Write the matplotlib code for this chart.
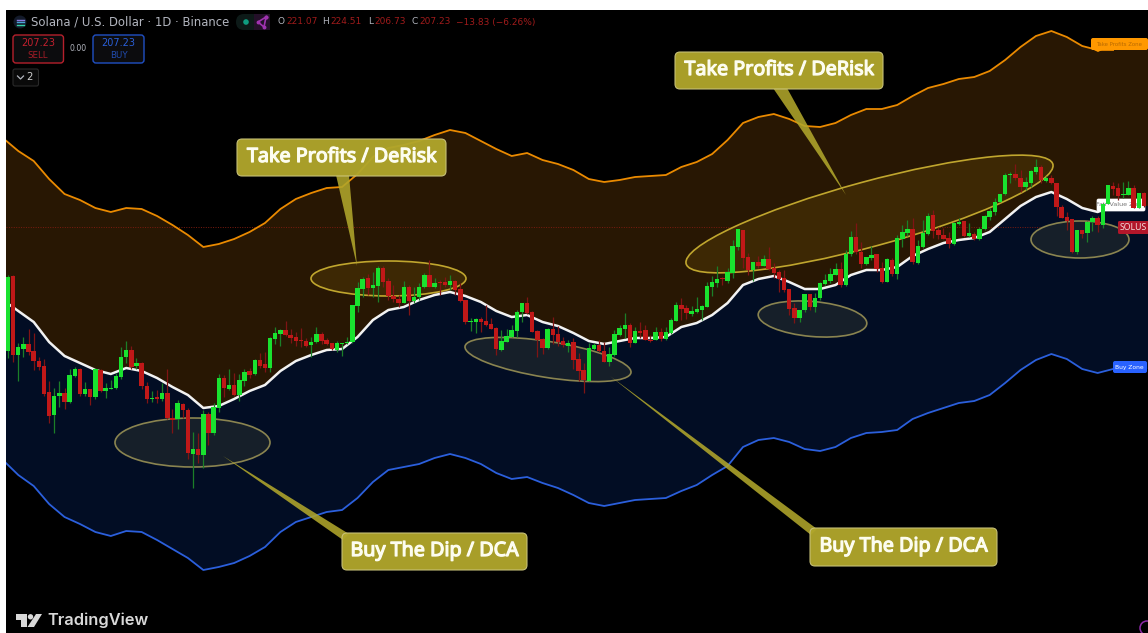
import numpy as np
import matplotlib
matplotlib.use("Agg")
import matplotlib.pyplot as plt
import matplotlib.patheffects as pe
from matplotlib.patches import Ellipse, FancyBboxPatch, Polygon, Circle, Rectangle

# Daily candles, rows of ten bars
opens = [145,182.5,143,146,148.5,145,140,137.5,124.5,113,
    122.5,124,119.5,132.5,136,123.5,126,122,135.5,125,
    126,126.5,132,142,145.5,137.5,139,127.5,121,122,
    121,124,111.5,111,118.5,115.5,93.5,96,93,113.5,
    104,116.5,131.5,126,128,123,130,135,133.5,140.5,
    138.5,136.5,151,153.5,155.5,153,152,150.5,150,148,
    149.5,153.5,150.5,149,145.5,148.5,149,149.5,167.5,176,
    181.5,176.5,177.5,186.5,180,172.5,171,169,177,170,
    172,177,183,177,179.5,179.5,178,180,176,170.5,
    159.5,159.5,161,160,158.5,156.5,145.5,149.5,152,155,
    164.5,169,164.5,155,151,146.5,156,153.5,150,147.5,
    149.5,141,135.5,130,146,148,145,139.5,143,153,
    156,158,149,155,155.5,150.5,150.5,154.5,151,154,
    160,168,166.5,163.5,164.5,165.5,167,177,179,181.5,
    180,184,197,205.5,192,185.5,189.5,187.5,191,186.5,
    184.5,181.5,176,166.5,161.5,165.5,173.5,167,171.5,178.5,
    180,183,186,178,193.5,202,194.5,188.5,191.5,193.5,
    186.5,179.5,190.5,183.5,201,204,206,189,197,203.5,
    213,205.5,203,201.5,198.5,208.5,210,202.5,203.5,201,
    206,212,214.5,219.5,223.5,233,233.5,231.5,227,229,
    234.5,237,230,231.5,229,217,212,211,194.5,205.5,
    204,209.5,211.5,208,218.5,227.5,226.5,223,223,226.5,
    216.5,224]
highs = [183,183,149,152,156,154,142,141,130,126.5,
    130,126.5,136,137,136.5,129.5,126,136.5,136,129,
    130.5,134,147,150,147.5,141.5,139.5,129.5,125,125.5,
    129,136,116,120.5,119,116.5,104.5,104,115.5,114.5,
    119,133.5,133,136,134,133.5,136,136.5,141,144,
    144.5,152,157,156,160,156,154.5,156.5,151.5,152,
    157,154.5,151.5,149,150,149,152,168,179.5,182,
    183.5,184.5,187.5,187.5,181.5,178,173,180,178,177,
    179,184,190.5,181.5,180.5,182,183,180.5,179,170.5,
    161.5,161.5,162,168,161.5,157,155.5,156,158,165.5,
    169,172,165,155.5,151.5,156.5,162,157.5,152,150.5,
    151.5,144,139,149,149,150.5,149.5,147,155.5,158,
    164,159,157,159.5,158,153,157,156.5,157,161.5,
    169.5,171.5,168,167.5,172,168,179.5,182.5,187.5,182,
    186.5,200.5,206,205.5,194,189.5,192.5,193,197,189,
    185.5,185.5,176,169,165.5,173.5,173.5,174,179.5,183.5,
    186.5,189,189.5,195.5,205,209,199.5,192,197.5,193.5,
    189.5,191.5,191.5,203,208,210.5,211.5,200.5,210.5,214,
    215.5,207,206.5,204.5,209.5,211.5,210,209,204.5,207,
    213,216.5,221.5,223.5,234,234.5,238.5,235.5,232,235.5,
    241,238,232.5,233,229,218,214.5,211,205.5,205.5,
    210,212.5,212.5,219,228,229.5,229,229.5,230,228,
    224,224.5]
lows = [141.5,139.5,130,142,143,135.5,135.5,122.5,109,104,
    117,116,119,132,122.5,122.5,118,121,124.5,121.5,
    126,126,131,139,136,136,126,119,119.5,119,
    120,111,104,106,111.5,91,76.5,89,86.5,98,
    103,114.5,122,125.5,122.5,120,127.5,131.5,133,136.5,
    134.5,134.5,148.5,147.5,152.5,149,147.5,147,147,142,
    149,148.5,148,145.5,144.5,142.5,148.5,149,164.5,172,
    173,172,169.5,177,170.5,169.5,167,169,163,169,
    170.5,176.5,177,176.5,173,177,175.5,173,169.5,158.5,
    155,154,154.5,157.5,156,143,145,149.5,152,152,
    159.5,163.5,154.5,142,143.5,146,148.5,147.5,147,144.5,
    136,130,124,130,145.5,144.5,139.5,137.5,142.5,152.5,
    151.5,147,149,151.5,150.5,149.5,150.5,150,150.5,153.5,
    160,160.5,161,162.5,164,160.5,167,172.5,177,178,
    179,181.5,195.5,186.5,183,180,186.5,187.5,185.5,181.5,
    174.5,174.5,163,159,159.5,164.5,165.5,164.5,170.5,178,
    179,183,177,177.5,192.5,193.5,186.5,188,190.5,184.5,
    179,179.5,182.5,181,197,202.5,188.5,188.5,196.5,203,
    201.5,201,201,196.5,198,208,202,202,200.5,200.5,
    205.5,210.5,213,219.5,223,229,230.5,224.5,225.5,227,
    233.5,229,229.5,228.5,212.5,211.5,205.5,194,193.5,201.5,
    199.5,205,204.5,206.5,218.5,223,220.5,221.5,223,216.5,
    216.5,217]
closes = [182,143,147,148.5,144.5,140,137,123.5,112.5,122.5,
    124,119.5,133,136,123.5,126,122,136,125,126.5,
    126.5,132.5,142,145.5,137,139,127.5,121,121.5,121,
    124,111.5,110.5,119,115.5,94,96,93,113.5,104,
    117,131.5,126.5,128,123,130.5,134.5,133,140.5,137.5,
    136.5,151.5,154,155.5,153,151.5,150,150,147.5,149.5,
    153.5,150,148.5,146,149,149,149.5,168,176.5,181,
    176.5,178,186.5,179.5,172.5,171,169,177,170,172,
    177,183,177,179,179,178,180,175.5,170,159.5,
    160,161,159.5,158,156,146,150,152.5,155.5,164.5,
    169,164,154.5,150.5,146.5,156,153,149.5,148,149,
    140.5,135,130.5,146.5,148,145,139.5,143.5,153.5,156.5,
    158,149,155,154,150.5,150,154.5,151,154.5,160.5,
    168,166,164,165,166,167.5,177.5,179.5,181,181,
    184.5,197.5,206,191.5,185.5,189.5,187.5,191,186,184,
    181,175.5,166,161.5,165.5,173.5,167,171.5,179,180.5,
    183.5,186,178,193.5,202,194.5,188.5,192,193,186,
    179.5,191,183.5,201.5,204.5,206,189.5,197.5,204,212.5,
    205,203,201,198.5,209,209.5,202.5,204,201,206,
    212.5,215,219.5,223.5,233,233.5,231.5,227,229.5,235,
    237,230.5,231.5,229,217,211.5,210,194.5,205.5,203.5,
    209.5,211.5,208,218.5,228,226,222.5,223.5,226.5,216.5,
    224,217.5]

# Bands, one reading every third bar
upper_band = [251.5,245,240,231,223.5,220.5,216.5,214.5,216.5,216,
    212.5,208,203,197,198.5,201,204.5,209,216,221,
    224,226.5,227,233.5,242,246.5,248,250,253,255.5,
    254,250,246,242.5,244,240.5,238.5,235.5,231,229.5,
    230.5,232,232.5,233,237,239.5,243.5,250.5,259,262,
    263.5,261,257.5,257,259,263,266,266,268,272.5,
    276.5,278.5,281,282,285,290.5,297,302.5,305,302,
    297.5,295.5,295.5]
mid_band = [170.5,165,159.5,149.5,142.5,139,135.5,133.5,136.5,135,
    131.5,127,123,116.5,117.5,121,125,128,135,140,
    143,145.5,146,152,160.5,165.5,167,170.5,173,174.5,
    172.5,169.5,165,162,163,159.5,157.5,154,150,148.5,
    150,151.5,151.5,152,157,159,163,169,178,181,
    182.5,179.5,176,176,178,183,185.5,185.5,187,192.5,
    196,199,200.5,201.5,204.5,211,217.5,222,224.5,221,
    216.5,214.5,217.5]
lower_band = [90.5,83,77.5,68.5,62,58.5,54.5,52.5,55,54.5,
    50.5,46,41.5,35.5,37,39,42.5,47,54.5,59.5,
    62,64.5,65.5,71.5,79.5,85.5,87,88.5,91.5,93.5,
    91.5,88.5,84,81,82,79,76.5,73,69,67.5,
    69,70.5,71,71.5,75,78,83,87.5,97,100.5,
    101.5,99.5,96,95,97,101.5,104,104.5,105.5,111,
    114,116.5,119,120,123,129,135.5,140.5,143.5,141,
    136,134,136]
last_price = 207.23

bars = np.arange(len(opens))
band_bars = np.arange(-1, 216, 3)
opens, highs, lows, closes = map(np.array, (opens, highs, lows, closes))
up = closes >= opens

GOLD = "#b0a62b"
fig = plt.figure(figsize=(11.48, 6.33), dpi=100, facecolor="white")

# price panel, black from x=6 and y=10 down
ax = fig.add_axes([6 / 1148, 0, 1142 / 1148, 623 / 633], facecolor="black")
ax.set_xlim(-0.39, 221.8)
ax.set_ylim(4, 315.5)
ax.axis("off")
ax.add_patch(Rectangle((0, 0), 1, 1, transform=ax.transAxes, color="black", zorder=0))

# overlay in picture pixels for the drawings and labels
note = fig.add_axes([0, 0, 1, 1], zorder=5)
note.set_xlim(0, 1148)
note.set_ylim(633, 0)
note.axis("off")

# zones, kept flat past the last reading up to the right edge
fill_x = np.append(band_bars, 223)
ax.fill_between(fill_x, np.append(mid_band, mid_band[-1]), np.append(upper_band, upper_band[-1]),
                color="#281703", lw=0, zorder=1)
ax.fill_between(fill_x, np.append(lower_band, lower_band[-1]), np.append(mid_band, mid_band[-1]),
                color="#020d24", lw=0, zorder=1)
ax.axhline(last_price, color="#7c1c10", lw=0.7, ls=(0, (1, 1.5)), zorder=2)

# ellipses sit under the candles
top_ell = dict(fc="#3d2804", ec="#c0a62e", lw=1.2, zorder=3, transform=note.transData)
low_ell = dict(fc="#161f29", ec="#8a8450", lw=1.2, zorder=3, transform=note.transData)
ax.add_patch(Ellipse((388.5, 278.5), 155, 35, **top_ell))
ax.add_patch(Ellipse((869.5, 214), 380, 65, angle=-15.2, **top_ell))
ax.add_patch(Ellipse((192.5, 442.5), 155, 49, **low_ell))
ax.add_patch(Ellipse((548, 359.5), 168, 36, angle=9, **low_ell))
ax.add_patch(Ellipse((812.5, 319), 109, 35, angle=5, **low_ell))
ax.add_patch(Ellipse((1080, 239.5), 98, 37, **low_ell))

ax.plot(band_bars, upper_band, color="#ea8a00", lw=1.3, zorder=4)
ax.plot(band_bars, lower_band, color="#2b5fdc", lw=1.3, zorder=4)
ax.plot(band_bars, mid_band, color="#f2f2f2", lw=1.8, zorder=4)

# fair value label is behind the candles
ax.add_patch(FancyBboxPatch((1097, 199), 48, 12, boxstyle="round,pad=0,rounding_size=1.5",
                            fc="white", ec="white", lw=0.5, zorder=4.5, transform=note.transData))
ax.text(1121, 205, "Fair Value Zone", color="#777777", fontsize=4.6, ha="center", va="center",
        zorder=4.6, transform=note.transData)

# candles
ax.vlines(bars[up], lows[up], highs[up], color="#1b7f28", lw=0.9, zorder=5)
ax.vlines(bars[~up], lows[~up], highs[~up], color="#7f1414", lw=0.9, zorder=5)
ax.bar(bars[up], (closes - opens)[up], bottom=opens[up], width=0.86, color="#19e22f", lw=0, zorder=6)
ax.bar(bars[~up], (opens - closes)[~up], bottom=closes[~up], width=0.86, color="#c01818", lw=0, zorder=6)


def box(x0, y0, x1, y1, r=4, **kw):
    note.add_patch(FancyBboxPatch((x0, y0), x1 - x0, y1 - y0,
                                  boxstyle=f"round,pad=0,rounding_size={r}", **kw))


def callout(x0, y0, x1, y1, label, pointer):
    note.add_patch(Polygon(pointer, closed=True, fc=GOLD, ec="none", alpha=0.88, zorder=3))
    box(x0, y0, x1, y1, r=5, fc=GOLD, ec="#c9c27a", lw=0.8, alpha=0.96, zorder=4)
    note.text((x0 + x1) / 2, (y0 + y1) / 2 - 0.5, label, color="#fdfdf0", fontsize=14.2,
              fontfamily="Noto Sans", ha="center", va="center", zorder=5,
              path_effects=[pe.withStroke(linewidth=0.9, foreground="#fdfdf0")])


callout(237, 139, 446, 176, "Take Profits / DeRisk", [(336, 175), (349, 175), (357, 266)])
callout(675, 52, 883, 89, "Take Profits / DeRisk", [(773, 88), (787, 88), (846, 195)])
callout(342, 533, 527, 570, "Buy The Dip / DCA", [(223, 456), (349, 534), (343, 540)])
callout(810, 528, 997, 566, "Buy The Dip / DCA", [(610, 376), (817, 529), (811, 535)])

# zone and price tags on the right
box(1091, 38, 1148, 50, r=2, fc="#ff9800", ec="none", zorder=6)
note.add_patch(Polygon([(1094, 50), (1102, 50), (1098, 52)], fc="#ff9800", ec="none", zorder=6))
note.text(1119, 44, "Take Profits Zone", color="#b96a00", fontsize=3.9, ha="center", va="center", zorder=7)
box(1113, 361, 1147, 373, r=2, fc="#2962ff", ec="none", zorder=6)
note.text(1129, 367, "Buy Zone", color="white", fontsize=4.3, ha="center", va="center", zorder=7)
box(1118, 221, 1152, 234, r=1.5, fc="#b2162a", ec="none", zorder=6)
note.text(1120, 227.5, "SOLUS", color="#f3dcdc", fontsize=6.3, fontfamily="Noto Sans", ha="left", va="center", zorder=7)

# header line
GREY = "#b2b5be"
DIM_RED = "#a01b1b"
note.add_patch(Circle((20, 22), 6.5, fc="#131a2a", ec="none"))
for dy, c in ((-2.5, "#8c7ce0"), (0, "#4aa3d8"), (2.5, "#35d0a5")):
    note.plot([16.5, 23.5], [22 + dy, 22 + dy], color=c, lw=1)
note.text(31, 22, "Solana / U.S. Dollar · 1D · Binance", color=GREY, fontsize=8.35, va="center")
box(236, 14, 270, 30, r=8, fc="#0d1a18", ec="none")
note.add_patch(Rectangle((254, 14), 16, 16, fc="#241029", ec="none"))
note.add_patch(Circle((246, 22), 2.8, fc="#0f9d80", ec="none"))
note.plot([266, 258, 264, 266], [17, 22, 27, 17], color="#a033b0", lw=1.2, marker="o", ms=1.8)
for x, s, c in ((277, "O", GREY), (286, "221.07", DIM_RED), (322, "H", GREY), (330, "224.51", DIM_RED),
                (368, "L", GREY), (374, "206.73", DIM_RED), (411, "C", GREY), (419, "207.23", DIM_RED),
                (456, "−13.83 (−6.26%)", DIM_RED)):
    note.text(x, 22, s, color=c, fontsize=6.5, va="center")

box(13, 35, 63.5, 63, r=3, fc="#0c0c0e", ec="#b5202c", lw=1)
note.text(38, 43, "207.23", color="#c3202e", fontsize=7, ha="center", va="center")
note.text(38, 55, "SELL", color="#a81c28", fontsize=6.2, ha="center", va="center")
note.text(78.5, 48.5, "0.00", color=GREY, fontsize=5.6, ha="center", va="center")
box(93, 35, 144, 63, r=3, fc="#0c0c0e", ec="#2050c4", lw=1)
note.text(118.5, 43, "207.23", color="#2a5fd8", fontsize=7, ha="center", va="center")
note.text(118.5, 55, "BUY", color="#214cb0", fontsize=6.2, ha="center", va="center")
box(13, 69, 38.5, 86, r=2, fc="#0a0a0a", ec="#2a2a2a", lw=0.8)
note.plot([17.5, 20.5, 23.5], [76, 79, 76], color=GREY, lw=0.9)
note.text(29.5, 77.5, "2", color="#d0d0d0", fontsize=7.2, ha="center", va="center")

# TradingView mark
LOGO = "#d9d9d9"
note.add_patch(Polygon([(16, 614), (27, 614), (27, 627), (21, 627), (21, 619.5), (16, 619.5)], fc=LOGO, ec="none"))
note.add_patch(Circle((30.5, 616.8), 2.7, fc=LOGO, ec="none"))
note.add_patch(Polygon([(36, 614), (42, 614), (34, 627), (27.5, 627)], fc=LOGO, ec="none"))
note.text(47, 620.5, "TradingView", color=LOGO, fontsize=11.8, fontfamily="Inter", fontweight="semibold", va="center")

note.add_patch(Circle((1147, 628), 7, fc="none", ec="#8e2aa8", lw=1.1))

fig.savefig("out.png", dpi=100, facecolor="white")
